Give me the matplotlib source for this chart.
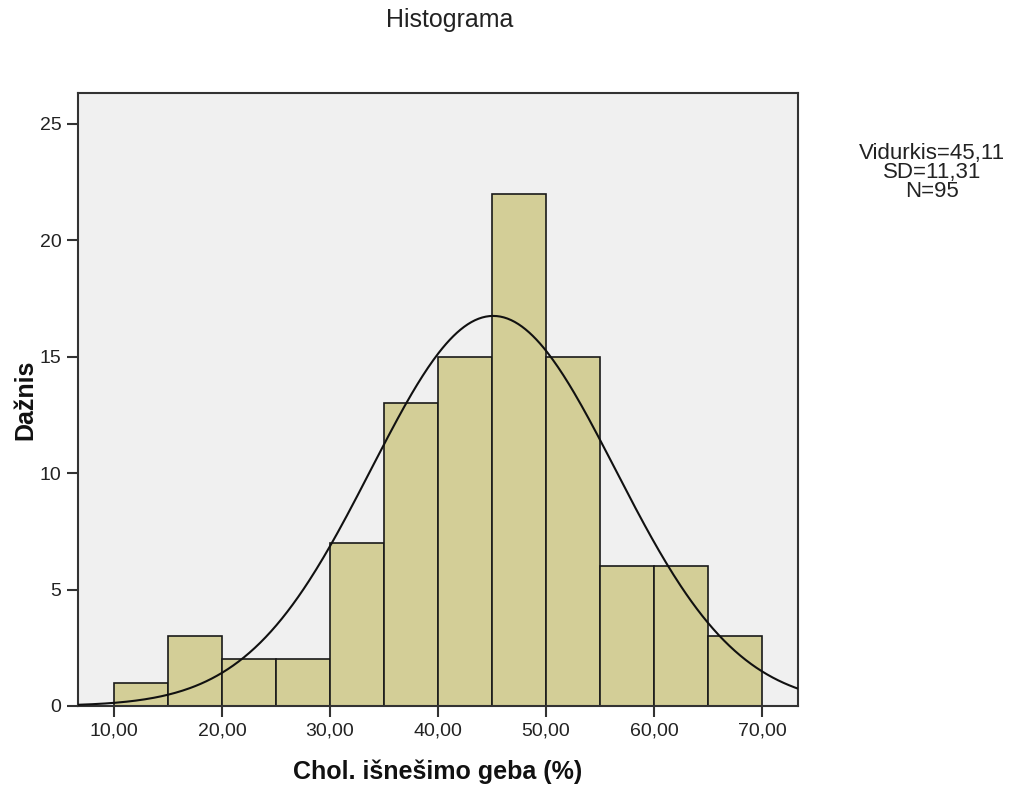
import numpy as np
import matplotlib
matplotlib.use("Agg")
import matplotlib.pyplot as plt

plt.rcParams['font.family'] = ['Liberation Sans', 'DejaVu Sans']

bin_edges = [10, 15, 20, 25, 30, 35, 40, 45, 50, 55, 60, 65, 70]
counts = [1, 3, 2, 2, 7, 13, 15, 22, 15, 6, 6, 3]
mean = 45.11
sd = 11.31
n = 95
xticks = [10, 20, 30, 40, 50, 60, 70]
xtick_labels = ["10,00", "20,00", "30,00", "40,00", "50,00", "60,00", "70,00"]
yticks = [0, 5, 10, 15, 20, 25]
stats_lines = ["Vidurkis=45,11", "SD=11,31", "N=95"]

fig = plt.figure(figsize=(10.28, 7.87), dpi=100)
ax = fig.add_axes([78/1028, 1-706/787, 720/1028, 613/787])
ax.set_facecolor('#F0F0F0')

widths = np.diff(bin_edges)
ax.bar(bin_edges[:-1], counts, width=widths, align='edge',
       color='#D3CE97', edgecolor='#1a1a1a', linewidth=1.2, zorder=2)

xs = np.linspace(6.67, 73.33, 400)
binw = bin_edges[1] - bin_edges[0]
ys = n * binw / (sd * np.sqrt(2 * np.pi)) * np.exp(-0.5 * ((xs - mean) / sd) ** 2)
ax.plot(xs, ys, color='#111111', linewidth=1.5, zorder=3)

ax.set_xlim(6.67, 73.33)
ax.set_ylim(0, 26.33)
ax.set_xticks(xticks)
ax.set_xticklabels(xtick_labels)
ax.set_yticks(yticks)
ax.tick_params(axis='both', labelsize=14, colors='#333333', length=8, width=1.5, pad=4)
for lbl in ax.get_xticklabels() + ax.get_yticklabels():
    lbl.set_color('#222222')
for s in ax.spines.values():
    s.set_color('#333333')
    s.set_linewidth(1.5)

fig.text(438/1028, 1-772/787, 'Chol. išnešimo geba (%)', ha='center', va='center',
         fontsize=18, fontweight='bold', color='#111111')
fig.text(25/1028, 1-400/787, 'Dažnis', ha='center', va='center', rotation=90,
         fontsize=18, fontweight='bold', color='#111111')

fig.text(450/1028, 1-20/787, 'Histograma', ha='center', va='center', fontsize=18, color='#222222')
for i, line in enumerate(stats_lines):
    fig.text(932/1028, 1-(159 + 19*i)/787, line, ha='center', va='baseline',
             fontsize=16, color='#222222')

fig.savefig('out.png', dpi=100)
